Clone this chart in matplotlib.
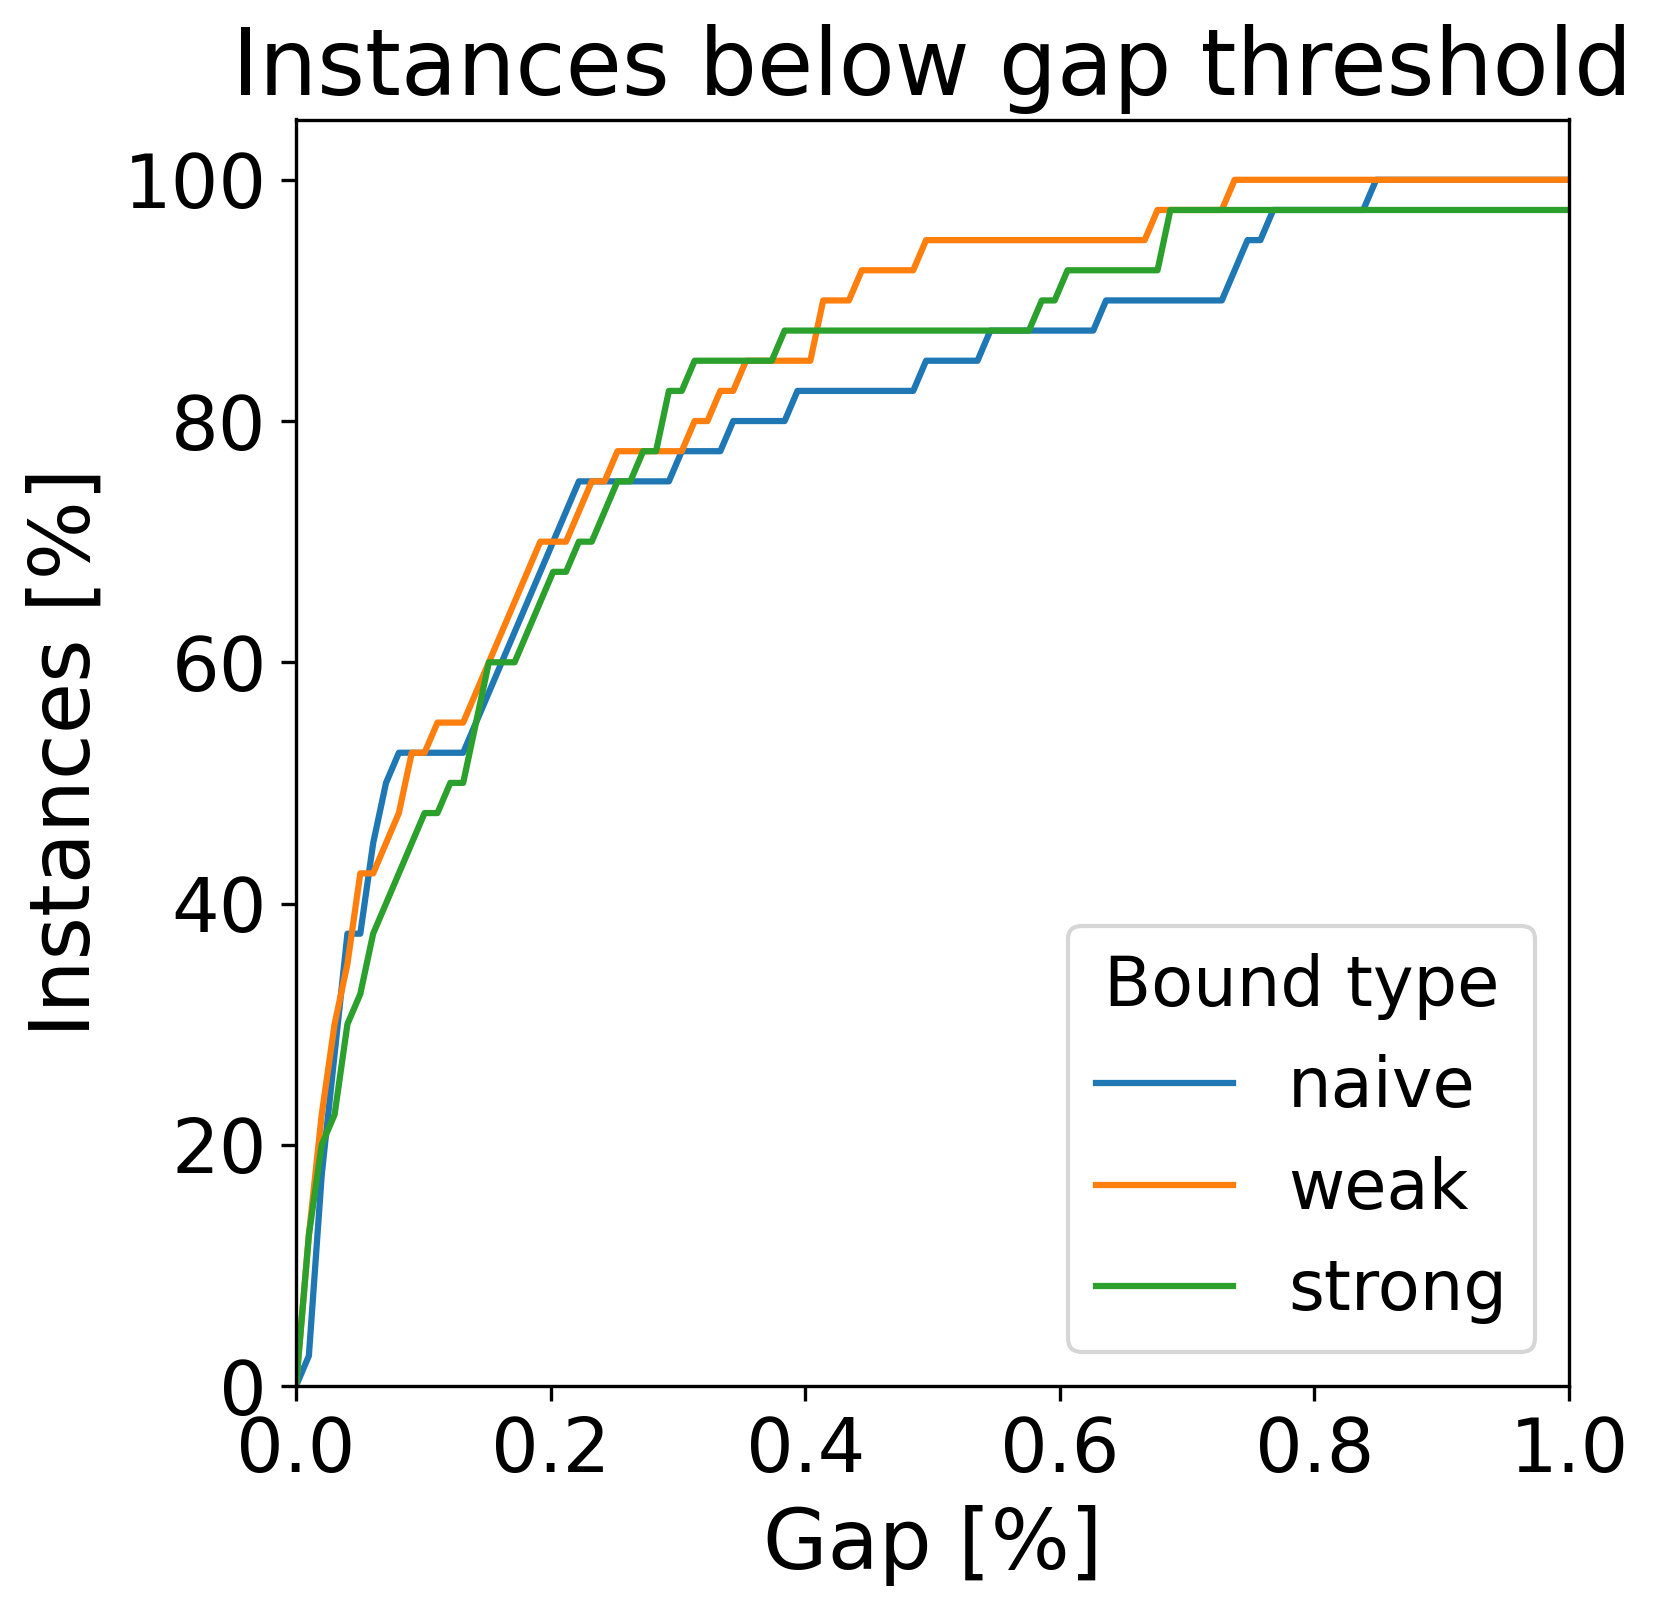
import numpy as np
import matplotlib
matplotlib.use('Agg')
import matplotlib.pyplot as plt

# Gap thresholds (100 evenly spaced values between 0 and 1)
thresholds = np.linspace(0, 1, 100)

# Percentage of instances below each threshold (40 instances -> 2.5% steps)
naive = [0, 2.5, 17.5, 27.5, 37.5, 37.5, 45, 50, 52.5, 52.5,
         52.5, 52.5, 52.5, 52.5, 55, 57.5, 60, 62.5, 65, 67.5,
         70, 72.5, 75, 75, 75, 75, 75, 75, 75, 75,
         77.5, 77.5, 77.5, 77.5, 80, 80, 80, 80, 80, 82.5,
         82.5, 82.5, 82.5, 82.5, 82.5, 82.5, 82.5, 82.5, 82.5, 85,
         85, 85, 85, 85, 87.5, 87.5, 87.5, 87.5, 87.5, 87.5,
         87.5, 87.5, 87.5, 90, 90, 90, 90, 90, 90, 90,
         90, 90, 90, 92.5, 95, 95, 97.5, 97.5, 97.5, 97.5,
         97.5, 97.5, 97.5, 97.5, 100, 100, 100, 100, 100, 100,
         100, 100, 100, 100, 100, 100, 100, 100, 100, 100]

weak = [0, 12.5, 22.5, 30, 35, 42.5, 42.5, 45, 47.5, 52.5,
        52.5, 55, 55, 55, 57.5, 60, 62.5, 65, 67.5, 70,
        70, 70, 72.5, 75, 75, 77.5, 77.5, 77.5, 77.5, 77.5,
        77.5, 80, 80, 82.5, 82.5, 85, 85, 85, 85, 85,
        85, 90, 90, 90, 92.5, 92.5, 92.5, 92.5, 92.5, 95,
        95, 95, 95, 95, 95, 95, 95, 95, 95, 95,
        95, 95, 95, 95, 95, 95, 95, 97.5, 97.5, 97.5,
        97.5, 97.5, 97.5, 100, 100, 100, 100, 100, 100, 100,
        100, 100, 100, 100, 100, 100, 100, 100, 100, 100,
        100, 100, 100, 100, 100, 100, 100, 100, 100, 100]

strong = [0, 12.5, 20, 22.5, 30, 32.5, 37.5, 40, 42.5, 45,
          47.5, 47.5, 50, 50, 55, 60, 60, 60, 62.5, 65,
          67.5, 67.5, 70, 70, 72.5, 75, 75, 77.5, 77.5, 82.5,
          82.5, 85, 85, 85, 85, 85, 85, 85, 87.5, 87.5,
          87.5, 87.5, 87.5, 87.5, 87.5, 87.5, 87.5, 87.5, 87.5, 87.5,
          87.5, 87.5, 87.5, 87.5, 87.5, 87.5, 87.5, 87.5, 90, 90,
          92.5, 92.5, 92.5, 92.5, 92.5, 92.5, 92.5, 92.5, 97.5, 97.5,
          97.5, 97.5, 97.5, 97.5, 97.5, 97.5, 97.5, 97.5, 97.5, 97.5,
          97.5, 97.5, 97.5, 97.5, 97.5, 97.5, 97.5, 97.5, 97.5, 97.5,
          97.5, 97.5, 97.5, 97.5, 97.5, 97.5, 97.5, 97.5, 97.5, 97.5]

series = {'naive': naive, 'weak': weak, 'strong': strong}

fig = plt.figure(figsize=(1659 / 300, 1611 / 300), dpi=300)
ax = fig.add_axes([296 / 1659, 1 - 1386 / 1611, (1569 - 296) / 1659, (1386 - 119.5) / 1611])

for name, values in series.items():
    ax.plot(thresholds, values, label=name, linewidth=1.5)

ax.set_xlim(0, 1)
ax.set_ylim(bottom=0)
ax.set_title('Instances below gap threshold', fontsize=22)
ax.set_xlabel('Gap [%]', fontsize=20)
ax.set_ylabel('Instances [%]', fontsize=20)
ax.tick_params(labelsize=18)
ax.legend(title='Bound type', loc='lower right', fontsize=16.5, title_fontsize=16.5)

fig.savefig('out.png', dpi=300)
